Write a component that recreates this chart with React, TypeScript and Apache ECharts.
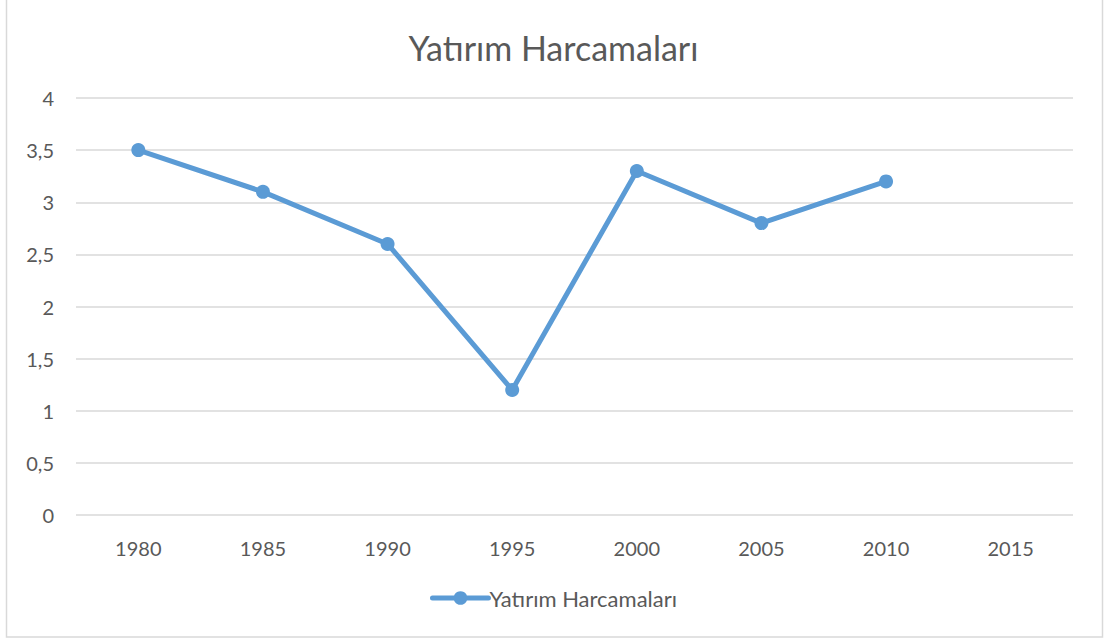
import React, { useEffect, useRef } from "react";
import * as echarts from "echarts";

const categories = ["1980", "1985", "1990", "1995", "2000", "2005", "2010", "2015"];
const values: (number | null)[] = [3.5, 3.1, 2.6, 1.2, 3.3, 2.8, 3.2, null];
const seriesName = "Yatırım Harcamaları";
const titleText = "Yatırım Harcamaları";

export default function App() {
  const ref = useRef<HTMLDivElement>(null);
  useEffect(() => {
    if (!ref.current) return;
    const chart = echarts.init(ref.current, undefined, { renderer: "svg" });
    const font = "Lato, 'Open Sans', sans-serif";
    chart.setOption({
      animation: false,
      backgroundColor: "#ffffff",
      title: {
        text: titleText,
        left: "center",
        top: 25,
        textStyle: { fontFamily: font, fontSize: 34, fontWeight: "normal", color: "#595959" },
      },
      legend: {
        bottom: 30,
        left: "center",
        itemWidth: 56,
        itemHeight: 17,
        itemGap: 10,
        textStyle: { fontFamily: font, fontSize: 22, color: "#595959", padding: [0, 0, 0, -4] },
        data: [{ name: seriesName }],
        lineStyle: { width: 5, color: "#5b9bd5", cap: "round" },
        itemStyle: { color: "#5b9bd5" },
      },
      grid: { left: 76, right: 34, top: 98, bottom: 129 },
      xAxis: {
        type: "category",
        data: categories,
        boundaryGap: true,
        axisLine: { show: false },
        axisTick: { show: false },
        axisLabel: { fontFamily: font, fontSize: 20, color: "#595959", margin: 23 },
      },
      yAxis: {
        type: "value",
        min: 0,
        max: 4,
        interval: 0.5,
        axisLine: { show: false },
        axisTick: { show: false },
        splitLine: { lineStyle: { color: "#d9d9d9", width: 1.5 } },
        axisLabel: {
          fontFamily: font,
          fontSize: 20,
          color: "#595959",
          margin: 22,
          formatter: (v: number) => String(v).replace(".", ","),
        },
      },
      series: [
        {
          name: seriesName,
          type: "line",
          data: values,
          symbol: "circle",
          symbolSize: 14,
          lineStyle: { color: "#5b9bd5", width: 5 },
          itemStyle: { color: "#5b9bd5" },
          connectNulls: false,
        },
      ],
      graphic: [
        {
          type: "rect",
          shape: { x: 6.5, y: -2, width: 1096, height: 639 },
          style: { fill: "none", stroke: "#d9d9d9", lineWidth: 1.5 },
          silent: true,
        },
      ],
    });
    return () => chart.dispose();
  }, []);
  return (
    <div
      ref={ref}
      style={{ position: "fixed", left: 0, top: 0, width: 1107, height: 644 }}
    />
  );
}
